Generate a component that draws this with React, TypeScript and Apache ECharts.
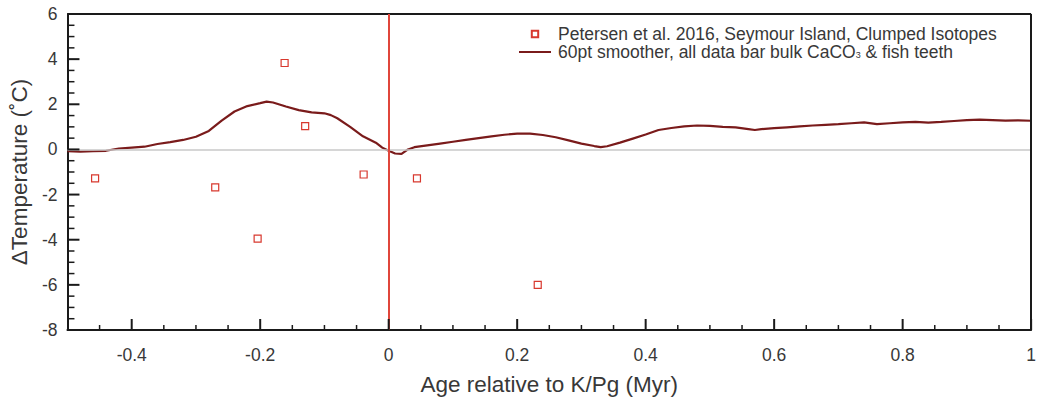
import React, { useEffect, useRef } from "react";
import * as echarts from "echarts";

// Smoothed record (60pt smoother)
const smoothAge = [
  -0.5, -0.48, -0.46, -0.44, -0.42, -0.4, -0.38, -0.36, -0.34, -0.32, -0.3, -0.28, -0.26, -0.24, -0.22, -0.2,
  -0.19, -0.18, -0.16, -0.14, -0.12, -0.1, -0.09, -0.08, -0.06, -0.04, -0.02, -0.01, 0.0, 0.01, 0.02, 0.03,
  0.04, 0.06, 0.08, 0.1, 0.12, 0.14, 0.16, 0.18, 0.2, 0.22, 0.24, 0.26, 0.28, 0.3, 0.32, 0.33, 0.34, 0.36,
  0.38, 0.4, 0.42, 0.44, 0.46, 0.48, 0.5, 0.52, 0.54, 0.56, 0.57, 0.58, 0.6, 0.62, 0.64, 0.66, 0.68, 0.7,
  0.72, 0.74, 0.76, 0.78, 0.8, 0.82, 0.84, 0.86, 0.88, 0.9, 0.92, 0.94, 0.96, 0.98, 1.0,
];
const smoothTemp = [
  -0.08, -0.1, -0.08, -0.06, 0.04, 0.08, 0.12, 0.24, 0.32, 0.42, 0.56, 0.82, 1.28, 1.68, 1.92, 2.05,
  2.12, 2.08, 1.9, 1.74, 1.64, 1.6, 1.52, 1.38, 1.0, 0.58, 0.3, 0.08, -0.06, -0.18, -0.2, 0.0,
  0.1, 0.18, 0.26, 0.34, 0.42, 0.5, 0.58, 0.65, 0.7, 0.7, 0.64, 0.54, 0.4, 0.26, 0.15, 0.1, 0.14, 0.3,
  0.48, 0.66, 0.86, 0.95, 1.02, 1.06, 1.04, 1.0, 0.98, 0.9, 0.86, 0.9, 0.94, 0.98, 1.02, 1.06, 1.09, 1.12,
  1.16, 1.2, 1.12, 1.16, 1.2, 1.22, 1.19, 1.22, 1.26, 1.3, 1.32, 1.3, 1.28, 1.29, 1.27,
];

// Petersen et al. 2016 clumped isotopes
const clumpedAge = [-0.457, -0.27, -0.204, -0.162, -0.13, -0.039, 0.044, 0.232];
const clumpedTemp = [-1.28, -1.68, -3.95, 3.83, 1.03, -1.11, -1.28, -6.0];

const xMajorTicks = [-0.4, -0.2, 0, 0.2, 0.4, 0.6, 0.8, 1];
const xMinorTicks = [
  -0.45, -0.35, -0.3, -0.25, -0.15, -0.1, -0.05, 0.05, 0.1, 0.15, 0.25, 0.3, 0.35, 0.45, 0.5, 0.55, 0.65,
  0.7, 0.75, 0.85, 0.9, 0.95,
];
const yMajorTicks = [-8, -6, -4, -2, 0, 2, 4, 6];
const yMinorTicks = [
  -7.5, -7, -6.5, -5.5, -5, -4.5, -3.5, -3, -2.5, -1.5, -1, -0.5, 0.5, 1, 1.5, 2.5, 3, 3.5, 4.5, 5, 5.5,
];

const X_MIN = -0.5;
const X_MAX = 1;
const Y_MIN = -8;
const Y_MAX = 6;

const nameClumped = "Petersen et al. 2016, Seymour Island, Clumped Isotopes";
const nameSmooth = "60pt smoother, all data bar bulk CaCO3 & fish teeth";

const FONT = "'Liberation Sans', Arial, sans-serif";
const TXT = "#383838";
const AX = "#1a1a1a";

export default function App() {
  const ref = useRef<HTMLDivElement>(null);

  useEffect(() => {
    if (!ref.current) return;
    const chart = echarts.init(ref.current, undefined, { renderer: "svg" });

    const smoothData = smoothAge.map((a, i) => [a, smoothTemp[i]]);
    const clumpedData = clumpedAge.map((a, i) => [a, clumpedTemp[i]]);

    chart.setOption({
      animation: false,
      grid: { left: 63, right: 3, top: 14, bottom: 66 },
      legend: {
        orient: "vertical",
        left: 513,
        top: 20,
        itemWidth: 32,
        itemHeight: 8,
        itemGap: 0,
        selectedMode: false,
        data: [{ name: nameClumped }, { name: nameSmooth, itemStyle: { opacity: 0 } }],
        formatter: (n: string) =>
          n === nameSmooth ? "60pt smoother, all data bar bulk CaCO{sub|3} & fish teeth" : n,
        textStyle: {
          fontFamily: FONT,
          fontSize: 17.5,
          lineHeight: 14,
          color: TXT,
          padding: [0, 0, 0, 2],
          rich: {
            sub: { fontFamily: FONT, fontSize: 9, color: TXT, lineHeight: 1, verticalAlign: "bottom" },
          },
        },
      },
      xAxis: {
        type: "value",
        min: X_MIN,
        max: X_MAX,
        interval: 0.1,
        position: "bottom",
        name: "Age relative to K/Pg (Myr)",
        nameLocation: "middle",
        nameGap: 43,
        nameTextStyle: { fontFamily: FONT, fontSize: 22.5, color: TXT },
        axisLine: { show: true, onZero: false, lineStyle: { color: AX, width: 2 } },
        axisTick: { show: false },
        axisLabel: {
          fontFamily: FONT,
          fontSize: 17.5,
          color: TXT,
          margin: 16,
          formatter: (v: number) => {
            const m = xMajorTicks.find((t) => Math.abs(t - v) < 1e-9);
            return m === undefined ? "" : String(m);
          },
        },
        splitLine: { show: false },
      },
      yAxis: {
        type: "value",
        min: Y_MIN,
        max: Y_MAX,
        interval: 2,
        name: "ΔTemperature (˚C)",
        nameLocation: "middle",
        nameGap: 29,
        nameTextStyle: { fontFamily: FONT, fontSize: 22.5, color: TXT },
        axisLine: { show: true, onZero: false, lineStyle: { color: AX, width: 2 } },
        axisTick: { show: false },
        minorTick: { show: false },
        axisLabel: { fontFamily: FONT, fontSize: 17.5, color: TXT, margin: 10 },
        splitLine: { show: false },
        minorSplitLine: { show: false },
      },
      series: [
        {
          type: "line",
          name: "zero",
          data: [],
          z: 1,
          silent: true,
          markLine: {
            silent: true,
            symbol: "none",
            label: { show: false },
            lineStyle: { color: "#c8c8c8", width: 1.5, type: "solid" },
            data: [{ yAxis: 0 }],
          },
        },
        {
          type: "line",
          name: "frame",
          data: [],
          z: 6,
          silent: true,
          markLine: {
            silent: true,
            symbol: "none",
            label: { show: false },
            lineStyle: { color: AX, width: 2, type: "solid" },
            data: [{ yAxis: Y_MAX }, { xAxis: X_MAX }],
          },
        },
        {
          type: "line",
          name: nameSmooth,
          data: smoothData,
          showSymbol: false,
          symbol: "circle",
          z: 3,
          silent: true,
          lineStyle: { color: "#7a1b1b", width: 2.2 },
          itemStyle: { color: "#7a1b1b" },
          emphasis: { disabled: true },
        },
        {
          type: "line",
          name: "kpg",
          data: [],
          z: 4,
          silent: true,
          markLine: {
            silent: true,
            symbol: "none",
            label: { show: false },
            lineStyle: { color: "#e0463b", width: 2, type: "solid" },
            data: [{ xAxis: 0 }],
          },
        },
        {
          type: "line",
          name: nameClumped,
          data: clumpedData,
          symbol: "rect",
          symbolSize: 7,
          showSymbol: true,
          z: 5,
          silent: true,
          lineStyle: { width: 0, opacity: 0 },
          itemStyle: { color: "#ffffff", borderColor: "#d8382e", borderWidth: 1.2 },
          emphasis: { disabled: true },
        },
      ],
    });

    // Inward ticks, positioned through the chart's own scales
    try {
      const elems: any[] = [];
      const addX = (vals: number[], len: number, w: number) =>
        vals.forEach((v) => {
          const p = chart.convertToPixel({ gridIndex: 0 }, [v, Y_MIN]) as number[];
          if (!p) return;
          elems.push({
            type: "line",
            z: 100,
            silent: true,
            shape: { x1: p[0], y1: p[1], x2: p[0], y2: p[1] - len },
            style: { stroke: AX, lineWidth: w },
          });
        });
      const addY = (vals: number[], len: number, w: number) =>
        vals.forEach((v) => {
          const p = chart.convertToPixel({ gridIndex: 0 }, [X_MIN, v]) as number[];
          if (!p) return;
          elems.push({
            type: "line",
            z: 100,
            silent: true,
            shape: { x1: p[0], y1: p[1], x2: p[0] + len, y2: p[1] },
            style: { stroke: AX, lineWidth: w },
          });
        });
      addX(xMajorTicks, 11, 2);
      addX(xMinorTicks, 5, 1.5);
      addY(yMajorTicks, 12, 2);
      addY(yMinorTicks, 7, 1.5);
      chart.setOption({ graphic: { elements: elems } });
    } catch (e) {
      // keep the chart even if ticks cannot be placed
    }

    return () => chart.dispose();
  }, []);

  return (
    <div
      ref={ref}
      style={{ position: "absolute", left: 0, top: 0, width: 1039, height: 401 }}
    />
  );
}
